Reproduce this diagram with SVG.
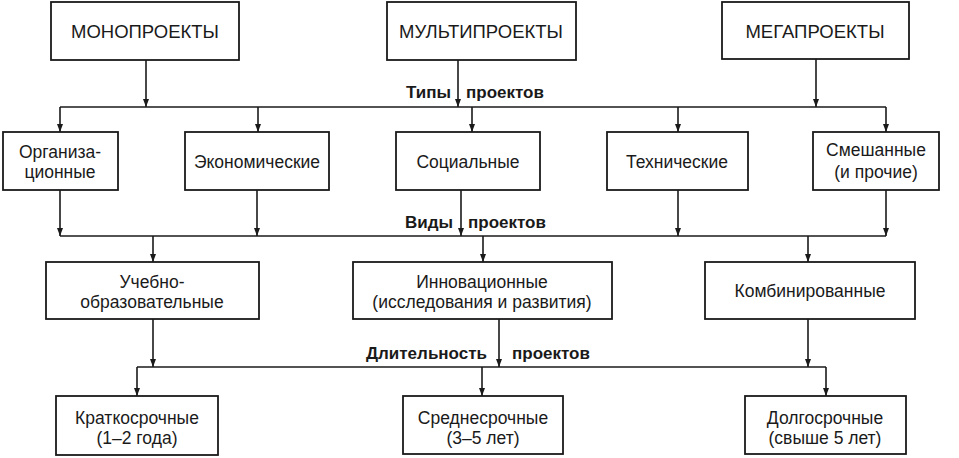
<svg xmlns="http://www.w3.org/2000/svg" width="959" height="458" viewBox="0 0 959 458">
<style>
.box{fill:#fff;stroke:#1a1a1a;stroke-width:1.8}
.t{font-family:"Liberation Sans",Arial,sans-serif;font-size:17.5px;fill:#1a1a1a;text-anchor:middle}
.cap{font-size:18.5px}
.lbl{font-family:"Liberation Sans",Arial,sans-serif;font-size:17px;font-weight:bold;fill:#1a1a1a}
.c{fill:none;stroke:#1a1a1a;stroke-width:1.6}
.a{marker-end:url(#ah)}
</style>
<defs>
<marker id="ah" markerUnits="userSpaceOnUse" markerWidth="8" markerHeight="9" viewBox="0 0 8 9" refX="4" refY="9" orient="0">
<path d="M1,1 L7,1 L4,9 Z" fill="#1a1a1a"/>
</marker>
</defs>
<rect width="959" height="458" fill="#fff"/>
<g id="connectors">
<path class="c a" d="M146,60 V107"/>
<path class="c a" d="M458,60 V107"/>
<path class="c a" d="M816,59 V107"/>
<path class="c" d="M60,107 H886"/>
<path class="c a" d="M60,107 V132"/>
<path class="c a" d="M258,107 V132"/>
<path class="c a" d="M472,107 V132"/>
<path class="c a" d="M678,107 V132"/>
<path class="c a" d="M886,107 V132"/>
<path class="c a" d="M60,190 V236"/>
<path class="c a" d="M257,190 V236"/>
<path class="c a" d="M461,190 V236"/>
<path class="c a" d="M678,190 V236"/>
<path class="c a" d="M886,190 V236"/>
<path class="c" d="M60,236 H886"/>
<path class="c a" d="M153,236 V262"/>
<path class="c a" d="M483,236 V262"/>
<path class="c a" d="M808,236 V262"/>
<path class="c a" d="M153,319 V367"/>
<path class="c a" d="M499,319 V367"/>
<path class="c a" d="M808,319 V367"/>
<path class="c" d="M137,367 H826"/>
<path class="c a" d="M137,367 V396"/>
<path class="c a" d="M482,367 V396"/>
<path class="c a" d="M826,367 V396"/>
<text class="lbl" x="451" y="98" text-anchor="end">Типы</text>
<text class="lbl" x="466" y="98">проектов</text>
<text class="lbl" x="453" y="228" text-anchor="end">Виды</text>
<text class="lbl" x="468" y="228">проектов</text>
<text class="lbl" x="487" y="359" text-anchor="end">Длительность</text>
<text class="lbl" x="512" y="359">проектов</text>
</g>
<g id="mono"><rect class="box" x="51" y="2" width="188" height="58"/><text class="t cap" x="145" y="38">МОНОПРОЕКТЫ</text></g>
<g id="multi"><rect class="box" x="387" y="2" width="189" height="58"/><text class="t cap" x="481" y="38">МУЛЬТИПРОЕКТЫ</text></g>
<g id="mega"><rect class="box" x="722" y="2" width="187" height="57"/><text class="t cap" x="815" y="38">МЕГАПРОЕКТЫ</text></g>
<g id="org"><rect class="box" x="3" y="132" width="115" height="58"/><text class="t" x="60" y="158">Организа-</text><text class="t" x="60" y="178">ционные</text></g>
<g id="econ"><rect class="box" x="185" y="132" width="144" height="58"/><text class="t" x="257" y="168">Экономические</text></g>
<g id="soc"><rect class="box" x="396" y="132" width="144" height="58"/><text class="t" x="468" y="168">Социальные</text></g>
<g id="tech"><rect class="box" x="607" y="132" width="141" height="58"/><text class="t" x="677" y="168">Технические</text></g>
<g id="mix"><rect class="box" x="813" y="132" width="126" height="58"/><text class="t" x="876" y="156">Смешанные</text><text class="t" x="876" y="178">(и прочие)</text></g>
<g id="edu"><rect class="box" x="46" y="262" width="213" height="57"/><text class="t" x="152" y="288">Учебно-</text><text class="t" x="152" y="308">образовательные</text></g>
<g id="innov"><rect class="box" x="353" y="262" width="259" height="57"/><text class="t" x="482" y="288">Инновационные</text><text class="t" x="482" y="308">(исследования и развития)</text></g>
<g id="comb"><rect class="box" x="705" y="262" width="210" height="57"/><text class="t" x="810" y="297">Комбинированные</text></g>
<g id="short"><rect class="box" x="56" y="396" width="162" height="59"/><text class="t" x="137" y="424">Краткосрочные</text><text class="t" x="137" y="444">(1–2 года)</text></g>
<g id="mid"><rect class="box" x="403" y="396" width="160" height="58"/><text class="t" x="483" y="424">Среднесрочные</text><text class="t" x="483" y="444">(3–5 лет)</text></g>
<g id="long"><rect class="box" x="745" y="396" width="161" height="58"/><text class="t" x="825" y="424">Долгосрочные</text><text class="t" x="825" y="444">(свыше 5 лет)</text></g>
</svg>
